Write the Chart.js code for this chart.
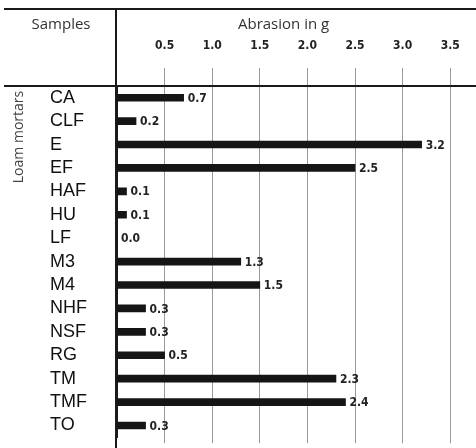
<!DOCTYPE html>
<html><head><meta charset="utf-8">
<script src="https://cdn.jsdelivr.net/npm/chart.js@4/dist/chart.umd.min.js"></script>
<style>html,body{margin:0;padding:0;background:#fff}#wrap{width:476px;height:448px;position:relative}canvas{display:block}</style>
</head><body><div id="wrap"><canvas id="c" width="476" height="448"></canvas></div>
<script>
const categories = ['CA','CLF','E','EF','HAF','HU','LF','M3','M4','NHF','NSF','RG','TM','TMF','TO'];
const abrasion = [0.7,0.2,3.2,2.5,0.1,0.1,0.0,1.3,1.5,0.3,0.3,0.5,2.3,2.4,0.3];
const tickStep = 0.5;
const axisMin = 0;
const axisMax = 3.75;
const groupLabel = 'Loam mortars';
const headerSamples = 'Samples';
const axisTitle = 'Abrasion in g';

const HEAD_FONT = '15px "Open Sans", "Liberation Sans", sans-serif';
const BOLD_FAMILY = '"DejaVu Sans Condensed", "Liberation Sans Narrow", sans-serif';

const decor = {
  id: 'decor',
  afterDraw(chart) {
    const ctx = chart.ctx;
    const ca = chart.chartArea;
    const xs = chart.scales.x;
    ctx.save();
    ctx.strokeStyle = '#1a1a1a';
    ctx.lineWidth = 2;
    ctx.beginPath();
    ctx.moveTo(4, 9); ctx.lineTo(chart.width, 9);
    ctx.moveTo(4, ca.top); ctx.lineTo(chart.width, ca.top);
    ctx.moveTo(ca.left - 1, 9); ctx.lineTo(ca.left - 1, chart.height);
    ctx.stroke();
    ctx.fillStyle = '#333';
    ctx.font = HEAD_FONT;
    ctx.textAlign = 'center';
    ctx.textBaseline = 'middle';
    ctx.fillText(headerSamples, 61, 25);
    ctx.fillText(axisTitle, xs.getPixelForValue(1.75), 25);
    ctx.save();
    ctx.translate(19, 137);
    ctx.rotate(-Math.PI / 2);
    ctx.fillStyle = '#444';
    ctx.font = '14px "Open Sans", "Liberation Sans", sans-serif';
    ctx.fillText(groupLabel, 0, 0);
    ctx.restore();
    const meta = chart.getDatasetMeta(0);
    ctx.fillStyle = '#222';
    ctx.font = 'bold 12px ' + BOLD_FAMILY;
    ctx.textAlign = 'left';
    meta.data.forEach((el, i) => {
      ctx.fillText(abrasion[i].toFixed(1), el.x + 4, el.y + 1);
    });
    ctx.restore();
  }
};

const gridColor = c => (c.tick && c.tick.value === 0) ? 'rgba(0,0,0,0)' : '#9a9a9a';

new Chart(document.getElementById('c'), {
  type: 'bar',
  data: {
    labels: categories,
    datasets: [{
      data: abrasion,
      backgroundColor: '#151515',
      borderWidth: 0,
      barThickness: 7
    }]
  },
  options: {
    indexAxis: 'y',
    responsive: false,
    animation: false,
    devicePixelRatio: 1,
    layout: { padding: { left: 50, right: 2, top: 0, bottom: 0 } },
    plugins: { legend: { display: false }, tooltip: { enabled: false } },
    scales: {
      x: {
        position: 'top',
        min: axisMin, max: axisMax,
        ticks: {
          stepSize: tickStep, includeBounds: false, autoSkip: false, maxRotation: 0,
          padding: 15,
          color: '#222',
          font: { family: BOLD_FAMILY, size: 12, weight: 'bold' },
          callback: v => v === 0 ? '' : Number(v).toFixed(1)
        },
        grid: { color: gridColor, tickLength: 18, lineWidth: 1 },
        border: { display: false },
        afterFit: s => { s.height = 86; }
      },
      x2: {
        axis: 'x',
        position: 'bottom',
        min: axisMin, max: axisMax,
        ticks: { display: false, stepSize: tickStep, includeBounds: false },
        grid: { color: gridColor, tickLength: 6, drawOnChartArea: false, lineWidth: 1 },
        border: { display: false },
        afterFit: s => { s.height = 6; }
      },
      y: {
        position: 'left',
        ticks: {
          crossAlign: 'far',
          autoSkip: false,
          padding: 0,
          color: '#111',
          font: { family: '"Liberation Sans", Arial, sans-serif', size: 18 }
        },
        grid: { display: false },
        border: { display: true, color: '#1a1a1a', width: 2 },
        afterFit: s => { s.width = 67; }
      }
    }
  },
  plugins: [decor]
});
</script>
</body></html>
